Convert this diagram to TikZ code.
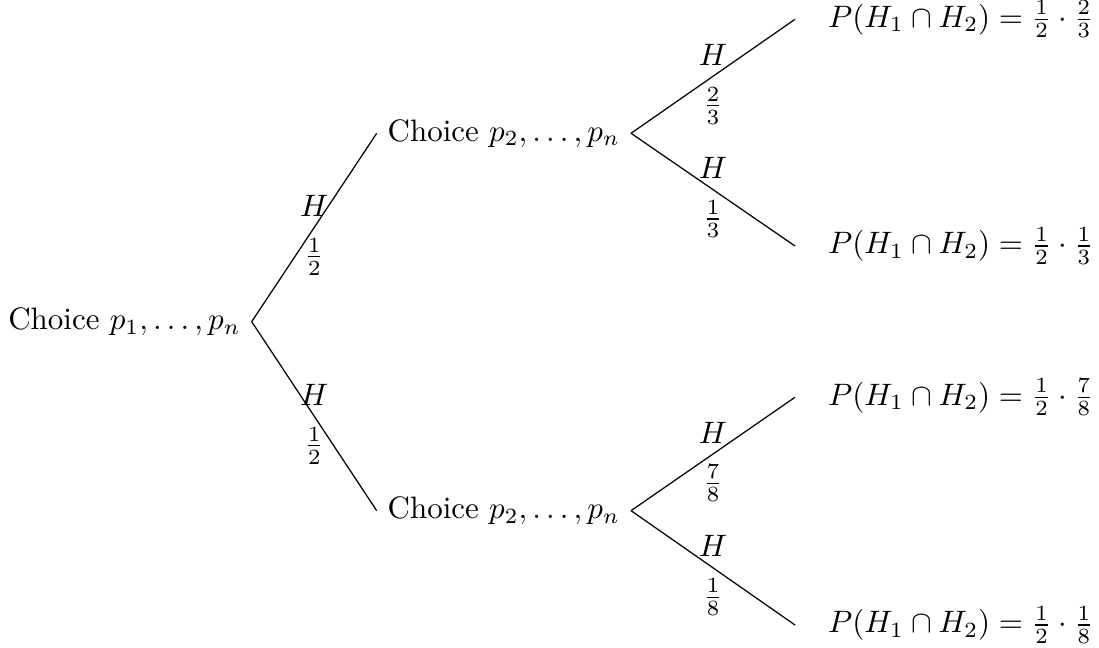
\documentclass[tikz,border=0pt]{standalone}
\begin{document}
\begin{tikzpicture}[x=0.32258pt, y=-0.32258pt,
  choicenode/.style={inner sep=3.33pt},
  leafnode/.style={anchor=west, inner xsep=10.5pt, inner ysep=3.33pt},
  branch/.style={draw=black, line width=0.4pt},
  toplbl/.style={midway, above, inner sep=3.33pt},
  botlbl/.style={midway, below, inner sep=3.33pt}]
  \useasboundingbox (0,0) rectangle (1099,648);

  % first choice
  \node[choicenode, anchor=east] (root) at (251.7,321.7) {Choice $p_1,\ldots,p_n$};

  % second choices
  \node[choicenode, anchor=west] (up) at (376.7,133.3) {Choice $p_2,\ldots,p_n$};
  \node[choicenode, anchor=west] (down) at (376.7,510.7) {Choice $p_2,\ldots,p_n$};

  % outcomes
  \node[leafnode] (uu) at (795,19.3) {$P(H_1\cap H_2)=\frac{1}{2}\cdot\frac{2}{3}$};
  \node[leafnode] (ud) at (795,246) {$P(H_1\cap H_2)=\frac{1}{2}\cdot\frac{1}{3}$};
  \node[leafnode] (du) at (795,397.3) {$P(H_1\cap H_2)=\frac{1}{2}\cdot\frac{7}{8}$};
  \node[leafnode] (dd) at (795,625) {$P(H_1\cap H_2)=\frac{1}{2}\cdot\frac{1}{8}$};

  % branches with their labels
  \draw[branch] (root.east) -- (up.west) node[toplbl] {$H$} node[botlbl] {$\frac{1}{2}$};
  \draw[branch] (root.east) -- (down.west) node[toplbl] {$H$} node[botlbl] {$\frac{1}{2}$};
  \draw[branch] (up.east) -- (uu.west) node[toplbl] {$H$} node[botlbl] {$\frac{2}{3}$};
  \draw[branch] (up.east) -- (ud.west) node[toplbl] {$H$} node[botlbl] {$\frac{1}{3}$};
  \draw[branch] (down.east) -- (du.west) node[toplbl] {$H$} node[botlbl] {$\frac{7}{8}$};
  \draw[branch] (down.east) -- (dd.west) node[toplbl] {$H$} node[botlbl] {$\frac{1}{8}$};
\end{tikzpicture}
\end{document}
